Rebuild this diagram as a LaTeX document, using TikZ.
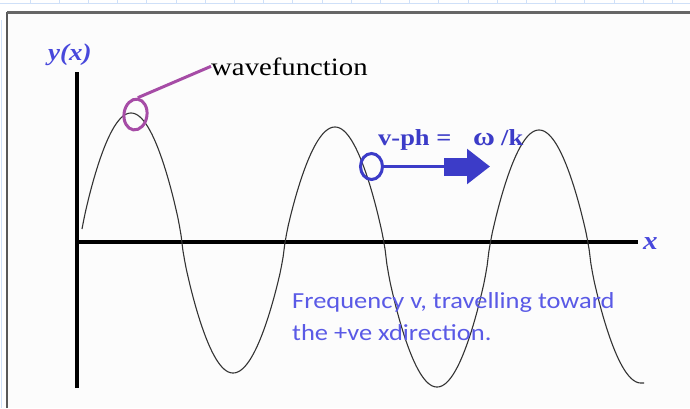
\documentclass[tikz,border=0pt]{standalone}
\usepackage{fontspec}
\setmainfont{Liberation Serif}
\newfontfamily\carlito{Carlito}
\usetikzlibrary{shapes.geometric,arrows.meta}
\definecolor{axisblue}{HTML}{4848DC}
\definecolor{vblue}{HTML}{3C3CC8}
\definecolor{wpurple}{HTML}{A64CA6}
\definecolor{txtblue}{HTML}{5A5AE6}
\definecolor{ruler}{HTML}{CFE0F8}
\tikzset{
  axisline/.style={line width=4pt, black},
  wave/.style={line width=1.1pt, black!80},
  mathlabel/.style={inner sep=0pt, text=axisblue, font=\fontsize{24}{28}\selectfont\bfseries\itshape, xscale=1.12},
  serlabel/.style={inner sep=0pt, font=\fontsize{25}{30}\selectfont, xscale=1.15},
  vlabel/.style={inner sep=0pt, text=vblue, font=\fontsize{23}{26}\selectfont\bfseries, xscale=1.15},
  note/.style={inner sep=0pt, text=txtblue, align=left, font=\carlito\fontsize{23}{32}\selectfont, xscale=1.15},
  ring/.style={ellipse, draw, inner sep=0pt, line width=3pt},
  declare function={
    cc(\t,\a,\c)=cos(180/(\c-\a)*(\t-\a));
    hw(\t,\a,\b,\c,\d)=(\b+\d)/2+(\b-\d)/2*(cc(\t,\a,\c)<0?-1:1)*(abs(cc(\t,\a,\c))+0.0001)^0.8;},
}
\begin{document}
\begin{tikzpicture}[x=1pt, y=-1pt]
\useasboundingbox (0,0) rectangle (690,408);
% ruler
\draw[ruler, line width=0.8pt] (0,3) -- (690,3);
\foreach \k in {0,...,22} \draw[ruler, line width=0.8pt] ({30+29.2*\k},0) -- ({30+29.2*\k},3);
\draw[ruler, line width=0.8pt] (1.5,20) -- (1.5,408);
% frame
\fill[black!1] (7,12) rectangle (690,408);
\draw[black!65, line width=1.5pt] (7,408) -- (7,12);
\draw[black!60, line width=3pt] (7,12) -- (690,12);
% axes
\coordinate (o) at (77,242);
\coordinate (ytop) at (77,72);
\coordinate (ybot) at (77,388);
\coordinate (xend) at (638,242);
\draw[axisline] (ybot) -- (ytop);
\draw[axisline] (o) -- (xend);
\node[mathlabel, anchor=base west] (ylab) at (48,60) {y(x)};
\node[mathlabel, anchor=base west, font=\fontsize{26}{30}\selectfont\bfseries\itshape] (xlab) at (643,249) {x};
% wave
\draw[wave]
  plot[domain=82:131, samples=30] (\x, {hw(\x,29,373,131,113)})
  -- plot[domain=131:233, samples=60] (\x, {hw(\x,131,113,233,373)})
  -- plot[domain=233:335, samples=60] (\x, {hw(\x,233,373,335,127)})
  -- plot[domain=335:437, samples=60] (\x, {hw(\x,335,127,437,387)})
  -- plot[domain=437:539, samples=60] (\x, {hw(\x,437,387,539,130)})
  -- plot[domain=539:641, samples=60] (\x, {hw(\x,539,130,641,383)})
  -- (644,383);
% wavefunction label
\node[ring, wpurple, minimum width=23pt, minimum height=31pt, rotate=-8] (wfring) at (135.5,114.5) {};
\node[serlabel, anchor=base west] (wflab) at (211,75) {wavefunction};
\draw[wpurple, line width=3pt] (wfring.north) -- (wflab.west);
% phase velocity
\node[ring, vblue, minimum width=22pt, minimum height=26pt] (vring) at (371.5,166.5) {};
\coordinate (abody) at (445,166.5);
\coordinate (atip) at (490,166.5);
\draw[vblue, line width=3pt] (vring.east) -- (abody);
\draw[vblue, line width=18pt, -{Triangle[length=23pt, width=34pt]}] ([xshift=-1pt]abody) -- (atip);
\node[vlabel, anchor=base west] (vph) at (378,145) {v-ph =};
\node[vlabel, anchor=base, font=\fontsize{26}{26}\selectfont\bfseries] (om) at (484,145) {ω};
\node[vlabel, anchor=base west] (ok) at (501,145) {/k};
% note
\node[note, anchor=base west] (txt) at (292,340) {Frequency v, travelling toward\\the +ve xdirection.};
\end{tikzpicture}
\end{document}
